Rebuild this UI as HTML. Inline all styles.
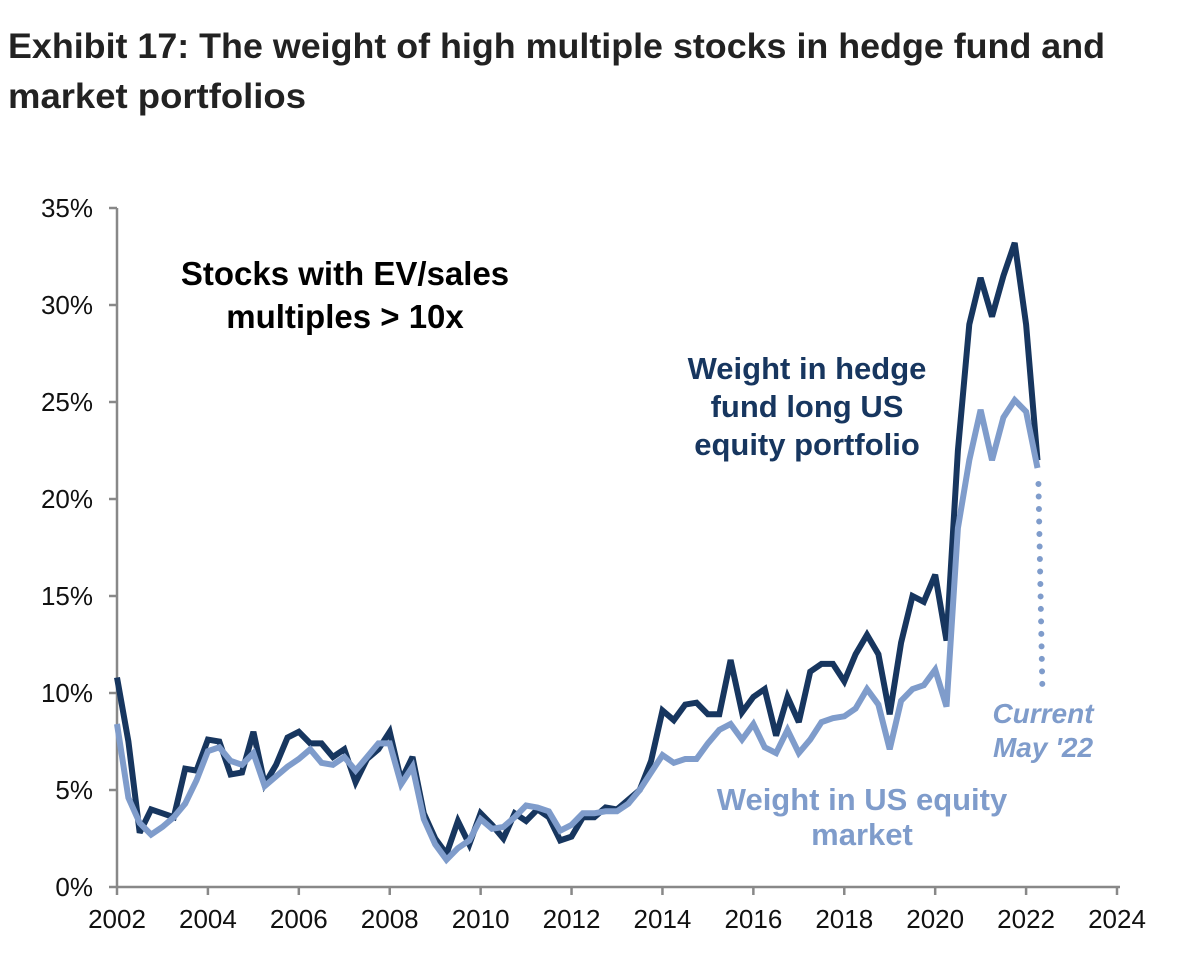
<!DOCTYPE html>
<html><head><meta charset="utf-8"><style>
html,body{margin:0;padding:0;background:#fff}
svg{display:block;font-family:"Liberation Sans",Arial,sans-serif}
</style></head><body>
<svg id="chart" width="1200" height="966" viewBox="0 0 1200 966">
<text x="8" y="58" font-size="35" font-weight="bold" fill="#222" textLength="1097" lengthAdjust="spacingAndGlyphs">Exhibit 17: The weight of high multiple stocks in hedge fund and</text>
<text x="8" y="108" font-size="35" font-weight="bold" fill="#222" textLength="298" lengthAdjust="spacingAndGlyphs">market portfolios</text>
<g id="axes"></g>
<g id="series"></g>
<text x="345" y="285" font-size="33" font-weight="bold" text-anchor="middle" fill="#000">Stocks with EV/sales</text>
<text x="345" y="328" font-size="33" font-weight="bold" text-anchor="middle" fill="#000">multiples &gt; 10x</text>
<g font-size="31" font-weight="bold" text-anchor="middle" fill="#17365f">
<text x="807" y="379">Weight in hedge</text>
<text x="807" y="417">fund long US</text>
<text x="807" y="455">equity portfolio</text>
</g>
<g font-size="31" font-weight="bold" text-anchor="middle" fill="#7f9ccb">
<text x="862" y="810">Weight in US equity</text>
<text x="862" y="845">market</text>
</g>
<g font-size="28" font-weight="bold" font-style="italic" text-anchor="middle" fill="#7f9ccb">
<text x="1043" y="723">Current</text>
<text x="1043" y="757">May '22</text>
</g>
</svg>
<script>
const yTicks=[0,5,10,15,20,25,30,35];
const xTicks=[2002,2004,2006,2008,2010,2012,2014,2016,2018,2020,2022,2024];
const startYear=2002, step=0.25;
const hedgeFund=[10.8,7.5,2.8,4.0,3.8,3.6,6.1,6.0,7.6,7.5,5.8,5.9,8.0,5.3,6.3,7.7,8.0,7.4,7.4,6.7,7.1,5.4,6.6,7.1,8.0,5.5,6.7,3.8,2.5,1.7,3.4,2.2,3.8,3.2,2.5,3.8,3.4,4.0,3.6,2.4,2.6,3.6,3.6,4.1,4.0,4.5,5.0,6.5,9.1,8.6,9.4,9.5,8.9,8.9,11.7,9.0,9.8,10.2,7.8,9.8,8.5,11.1,11.5,11.5,10.6,12.0,13.0,12.0,8.9,12.6,15.0,14.7,16.1,12.7,22.5,29.0,31.4,29.4,31.5,33.2,29.0,22.0];
const market=[8.4,4.6,3.3,2.7,3.1,3.6,4.3,5.5,7.0,7.2,6.5,6.3,6.9,5.2,5.7,6.2,6.6,7.1,6.4,6.3,6.7,6.0,6.7,7.4,7.4,5.3,6.2,3.5,2.2,1.4,2.0,2.4,3.5,3.0,3.1,3.6,4.2,4.1,3.9,2.9,3.2,3.8,3.8,3.9,3.9,4.3,5.0,5.9,6.8,6.4,6.6,6.6,7.4,8.1,8.4,7.6,8.4,7.2,6.9,8.1,6.9,7.6,8.5,8.7,8.8,9.2,10.2,9.4,7.1,9.6,10.2,10.4,11.2,9.3,18.5,22.0,24.6,22.0,24.2,25.1,24.5,21.6];
const currentDrop=[21.6,10];

const NS="http://www.w3.org/2000/svg";
const x=v=>117+(v-2002)*1000/22;
const y=v=>887-v*679/35;
function mk(tag,attrs,parent){const e=document.createElementNS(NS,tag);for(const k in attrs)e.setAttribute(k,attrs[k]);parent.appendChild(e);return e;}
const axes=document.getElementById('axes'), series=document.getElementById('series');
const ax=mk('line',{x1:x(2002),y1:y(0),x2:x(2024)+3,y2:y(0),stroke:'#888','stroke-width':2.5},axes);


const ay=mk('line',{x1:x(2002),y1:y(0),x2:x(2002),y2:y(35),stroke:'#888','stroke-width':2.5},axes);


yTicks.forEach(t=>{
  mk('line',{x1:x(2002)-8,y1:y(t),x2:x(2002),y2:y(t),stroke:'#888','stroke-width':2.5},axes);
  const tx=mk('text',{x:93,y:y(t)+9,'font-size':26,'text-anchor':'end',fill:'#111'},axes);
  tx.textContent=t+'%';
  
  
});
xTicks.forEach(t=>{
  mk('line',{x1:x(t),y1:y(0),x2:x(t),y2:y(0)+8,stroke:'#888','stroke-width':2.5},axes);
  const tx=mk('text',{x:x(t),y:928,'font-size':26,'text-anchor':'middle',fill:'#111'},axes);
  tx.textContent=t;
  
  
});
function pts(arr){return arr.map((v,i)=>x(startYear+i*step).toFixed(1)+','+y(v).toFixed(1)).join(' ');}
const last=startYear+(market.length-1)*step;
const dot=mk('line',{x1:x(last)+1,y1:y(currentDrop[0])+16,x2:x(last)+5,y2:y(currentDrop[1]),stroke:'#7f9ccb','stroke-width':6,'stroke-linecap':'round','stroke-dasharray':'0 12.5'},series);


const lh=mk('polyline',{points:pts(hedgeFund),fill:'none',stroke:'#17365f','stroke-width':6,'stroke-linejoin':'miter','stroke-miterlimit':3},series);


const lm=mk('polyline',{points:pts(market),fill:'none',stroke:'#7f9ccb','stroke-width':6,'stroke-linejoin':'miter','stroke-miterlimit':3},series);


</script>
</body></html>
